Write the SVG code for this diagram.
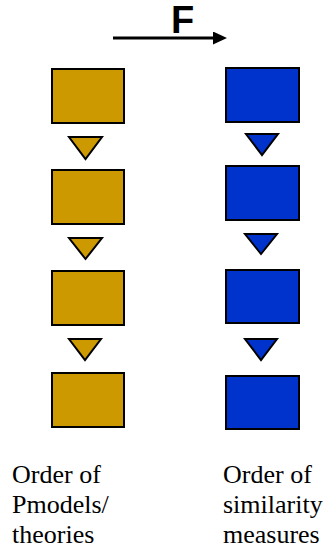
<svg xmlns="http://www.w3.org/2000/svg" width="326" height="550" viewBox="0 0 326 550">
<defs>
<style>
.g{fill:#CC9900;stroke:#000;stroke-width:2}
.b{fill:#0033CC;stroke:#000;stroke-width:2}
.t{font-family:"Liberation Serif","Times New Roman",serif;font-size:26px;fill:#000}
</style>
<marker id="ah" markerWidth="14" markerHeight="13" refX="1" refY="6.5" orient="auto" markerUnits="userSpaceOnUse"><path d="M0,0 L14,6.5 L0,13 Z" fill="#000"/></marker>
</defs>
<rect width="326" height="550" fill="#fff"/>
<g id="arrowF">
<line x1="113" y1="38" x2="214" y2="38" stroke="#000" stroke-width="3" marker-end="url(#ah)"/>
<text x="171" y="33" font-family="Liberation Sans,Arial,sans-serif" font-weight="bold" font-size="38">F</text>
</g>
<g id="left-boxes">
<rect id="g1" class="g" x="52" y="69" width="72" height="54"/>
<rect id="g2" class="g" x="52" y="170" width="72" height="54"/>
<rect id="g3" class="g" x="52" y="271" width="72" height="54"/>
<rect id="g4" class="g" x="52" y="373" width="72" height="54"/>
</g>
<g id="left-connectors">
<polygon class="g" points="69,137 102,137 85.5,159"/>
<polygon class="g" points="69,238 102,238 85.5,259"/>
<polygon class="g" points="69,339 101,339 85,360"/>
</g>
<g id="right-boxes">
<rect id="b1" class="b" x="226" y="68" width="73" height="54"/>
<rect id="b2" class="b" x="226" y="166" width="73" height="54"/>
<rect id="b3" class="b" x="226" y="270" width="73" height="53"/>
<rect id="b4" class="b" x="226" y="376" width="73" height="53"/>
</g>
<g id="right-connectors">
<polygon class="b" points="246,134 278,134 262,155"/>
<polygon class="b" points="245,234 277,234 261,254"/>
<polygon class="b" points="245,339 277,339 261,360"/>
</g>
<g id="labels">
<text class="t" x="12" y="483">Order of</text>
<text class="t" x="12" y="513">Pmodels/</text>
<text class="t" x="12" y="543">theories</text>
<text class="t" x="223" y="483">Order of</text>
<text class="t" x="223" y="513">similarity</text>
<text class="t" x="223" y="543">measures</text>
</g>
</svg>
